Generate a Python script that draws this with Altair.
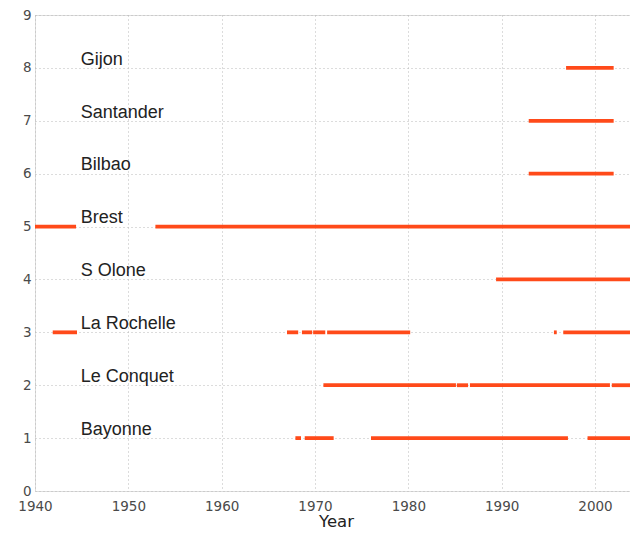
import altair as alt
import pandas as pd

# Stations (y position and label)
stations = ["Bayonne", "Le Conquet", "La Rochelle", "S Olone", "Brest", "Bilbao", "Santander", "Gijon"]
station_y = [1, 2, 3, 4, 5, 6, 7, 8]

# Data coverage segments (station y, start year, end year)
seg_y = [
    1, 1, 1, 1,
    2, 2, 2, 2,
    3, 3, 3, 3, 3, 3, 3,
    4,
    5, 5,
    6, 7, 8,
]
seg_start = [
    1967.9, 1968.9, 1976.0, 1999.2,
    1970.9, 1985.2, 1986.6, 2001.8,
    1941.9, 1967.0, 1968.6, 1969.8, 1971.3, 1995.6, 1996.6,
    1989.4,
    1940.0, 1952.9,
    1992.9, 1992.9, 1996.9,
]
seg_end = [
    1968.5, 1972.0, 1997.1, 2004.0,
    1985.1, 1986.4, 2001.6, 2004.0,
    1944.5, 1968.2, 1969.7, 1971.1, 1980.2, 1995.9, 2004.0,
    2004.0,
    1944.4, 2004.0,
    2002.0, 2002.0, 2002.0,
]

x_ticks = [1940, 1950, 1960, 1970, 1980, 1990, 2000]
y_ticks = [0, 1, 2, 3, 4, 5, 6, 7, 8, 9]
label_year = 1944.9
label_offset = 0.06

segs = pd.DataFrame({"y": seg_y, "start": seg_start, "end": seg_end})
labels = pd.DataFrame({"name": stations, "y": [v + label_offset for v in station_y],
                       "x": [label_year] * len(stations)})

xscale = alt.Scale(domain=[1940, 2004.5], nice=False, zero=False)
yscale = alt.Scale(domain=[0, 9], nice=False)

axis_common = dict(
    grid=True, gridColor="#b8b8b8", gridDash=[1, 3], gridWidth=1,
    domain=False, ticks=False,
    labelFont="DejaVu Sans", labelFontSize=13.5, labelColor="#4a4a4a",
)

bars = alt.Chart(segs).mark_rule(color="#ff4a1a", strokeWidth=3.8, strokeCap="butt").encode(
    x=alt.X("start:Q", scale=xscale,
            axis=alt.Axis(values=x_ticks, format="d", title="Year", titleFont="DejaVu Sans",
                          titleFontSize=16.5, titleFontWeight="normal", titleColor="#222222",
                          titleBaseline="alphabetic", titleY=35,
                          labelPadding=8, labelFlush=False, **axis_common)),
    x2="end:Q",
    y=alt.Y("y:Q", scale=yscale,
            axis=alt.Axis(values=y_ticks, title=None, labelPadding=4, labelFlush=False, **axis_common)),
)

text = alt.Chart(labels).mark_text(align="left", baseline="alphabetic", font="Liberation Sans",
                                   fontSize=18, color="#222222").encode(
    x=alt.X("x:Q", scale=xscale),
    y=alt.Y("y:Q", scale=yscale),
    text="name:N",
)

chart = alt.layer(bars, text).properties(
    width=602, height=476,
    autosize=alt.AutoSizeParams(type="none"),
    padding={"left": 27, "top": 7, "right": -7, "bottom": 38},
).configure_view(stroke="#8a8a8a", strokeWidth=1.5).configure(background="white")

chart.save("out.html", embed_options={"renderer": "svg", "actions": False})
